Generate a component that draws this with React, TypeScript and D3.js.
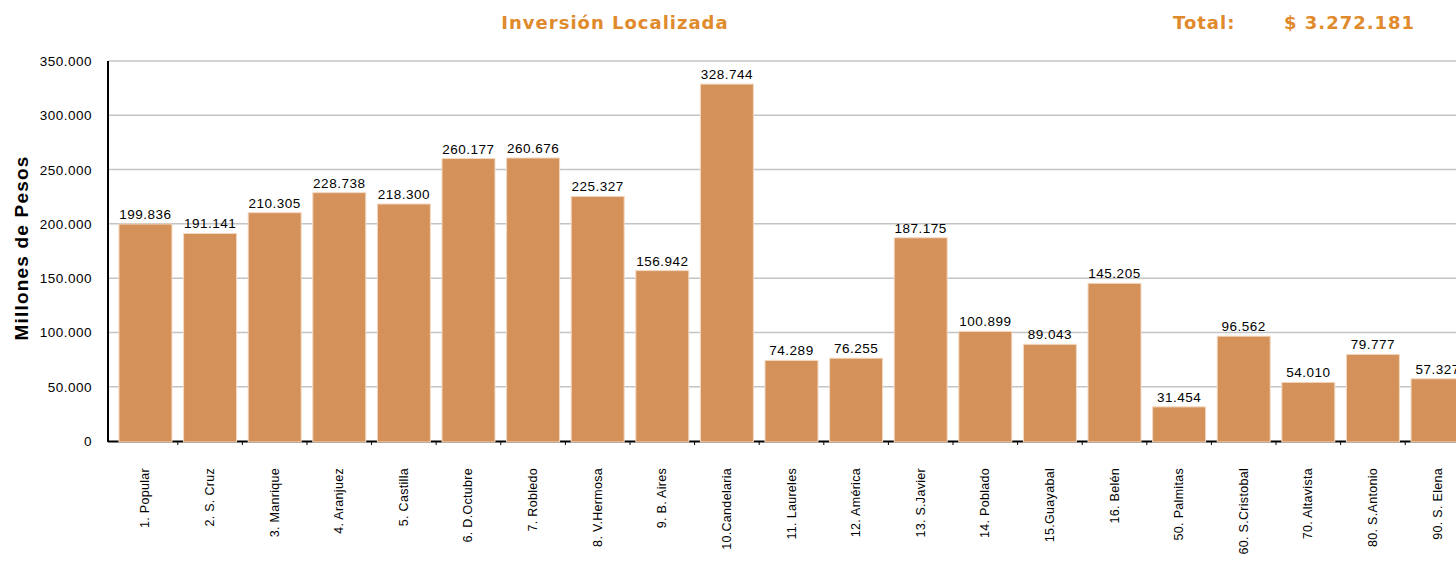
import { useEffect, useRef } from "react";
import * as d3 from "d3";

// comunas / corregimientos
const categories = [
  "1. Popular",
  "2. S. Cruz",
  "3. Manrique",
  "4. Aranjuez",
  "5. Castilla",
  "6. D.Octubre",
  "7. Robledo",
  "8. V.Hermosa",
  "9. B. Aires",
  "10.Candelaria",
  "11. Laureles",
  "12. América",
  "13. S.Javier",
  "14. Poblado",
  "15.Guayabal",
  "16. Belén",
  "50. Palmitas",
  "60. S.Cristobal",
  "70. Altavista",
  "80. S.Antonio",
  "90. S. Elena",
];
const values = [
  199836, 191141, 210305, 228738, 218300, 260177, 260676, 225327, 156942,
  328744, 74289, 76255, 187175, 100899, 89043, 145205, 31454, 96562, 54010,
  79777, 57327,
];
const yTicks = [0, 50000, 100000, 150000, 200000, 250000, 300000, 350000];

const fmt = (v: number) => d3.format(",")(v).replace(/,/g, ".");

const App = () => {
  const svgRef = useRef<SVGSVGElement | null>(null);

  useEffect(() => {
    const w = 1456;
    const h = 566;
    const left = 108;
    const top = 61;
    const bottom = 441;
    const font = "'Liberation Sans', Arial, sans-serif";
    const titleFont = "'DejaVu Sans', Verdana, sans-serif";
    const orange = "#E08A2C";

    const svg = d3.select(svgRef.current);
    svg.selectAll("*").remove();
    svg.attr("width", w).attr("height", h).style("background", "#fff");

    const x = d3
      .scaleBand()
      .domain(categories)
      .range([left, left + 1367])
      .paddingInner(0.18)
      .paddingOuter(0.17);
    const y = d3.scaleLinear().domain([0, 350000]).range([bottom, top]);

    // grid
    svg
      .append("g")
      .selectAll("line")
      .data(yTicks.filter((d) => d > 0))
      .join("line")
      .attr("x1", left)
      .attr("x2", w)
      .attr("y1", (d) => y(d))
      .attr("y2", (d) => y(d))
      .attr("stroke", "#c4c4c4")
      .attr("stroke-width", 1.5);

    // y tick labels
    svg
      .append("g")
      .selectAll("text")
      .data(yTicks)
      .join("text")
      .attr("x", 92)
      .attr("y", (d) => y(d) + 5)
      .attr("text-anchor", "end")
      .attr("font-family", font)
      .attr("font-size", 13.5)
      .attr("letter-spacing", 0.5)
      .attr("fill", "#000")
      .text((d) => fmt(d));

    // x axis line + ticks between bars
    svg
      .append("line")
      .attr("x1", left)
      .attr("x2", w)
      .attr("y1", bottom + 0.5)
      .attr("y2", bottom + 0.5)
      .attr("stroke", "#000")
      .attr("stroke-width", 2);

    const step = x.step();
    svg
      .append("g")
      .selectAll("line")
      .data(categories)
      .join("line")
      .attr("x1", (d) => (x(d) as number) + x.bandwidth() + (step - x.bandwidth()) / 2)
      .attr("x2", (d) => (x(d) as number) + x.bandwidth() + (step - x.bandwidth()) / 2)
      .attr("y1", bottom)
      .attr("y2", bottom + 4)
      .attr("stroke", "#000")
      .attr("stroke-width", 1);

    // bars
    svg
      .append("g")
      .selectAll("rect")
      .data(values)
      .join("rect")
      .attr("x", (_, i) => x(categories[i]) as number)
      .attr("y", (d) => y(d))
      .attr("width", x.bandwidth())
      .attr("height", (d) => bottom + 1 - y(d))
      .attr("fill", "#D4925A")
      .attr("stroke", "#f3d9c2")
      .attr("stroke-width", 1);

    // value labels
    svg
      .append("g")
      .selectAll("text")
      .data(values)
      .join("text")
      .attr("x", (_, i) => (x(categories[i]) as number) + x.bandwidth() / 2)
      .attr("y", (d) => y(d) - 5)
      .attr("text-anchor", "middle")
      .attr("font-family", font)
      .attr("font-size", 13.5)
      .attr("letter-spacing", 0.5)
      .attr("fill", "#000")
      .text((d) => fmt(d));

    // y axis line
    svg
      .append("line")
      .attr("x1", left)
      .attr("x2", left)
      .attr("y1", top)
      .attr("y2", bottom + 1)
      .attr("stroke", "#000")
      .attr("stroke-width", 2);

    // x labels (rotated)
    svg
      .append("g")
      .selectAll("text")
      .data(categories)
      .join("text")
      .attr("transform", (d) => `translate(${(x(d) as number) + x.bandwidth() / 2 + 4}, 468) rotate(-90)`)
      .attr("text-anchor", "end")
      .attr("font-family", font)
      .attr("font-size", 12.5)
      .attr("letter-spacing", 0.3)
      .attr("fill", "#000")
      .text((d) => d);

    // y axis title
    svg
      .append("text")
      .attr("transform", "translate(28, 248) rotate(-90)")
      .attr("text-anchor", "middle")
      .attr("font-family", font)
      .attr("font-size", 19)
      .attr("letter-spacing", 1.2)
      .attr("font-weight", "bold")
      .attr("fill", "#000")
      .text("Millones de Pesos");

    // titles
    const title = (tx: number, anchor: string, label: string) =>
      svg
        .append("text")
        .attr("x", tx)
        .attr("y", 29)
        .attr("text-anchor", anchor)
        .attr("font-family", titleFont)
        .attr("font-size", 18)
        .attr("font-weight", "bold")
        .attr("letter-spacing", 1)
        .attr("fill", orange)
        .text(label);
    title(615, "middle", "Inversión Localizada");
    title(1173, "start", "Total:");
    title(1284, "start", "$ " + fmt(3272181));
  }, []);

  return (
    <svg
      ref={svgRef}
      style={{ position: "absolute", left: 0, top: 0, display: "block" }}
    ></svg>
  );
};

export default App;
